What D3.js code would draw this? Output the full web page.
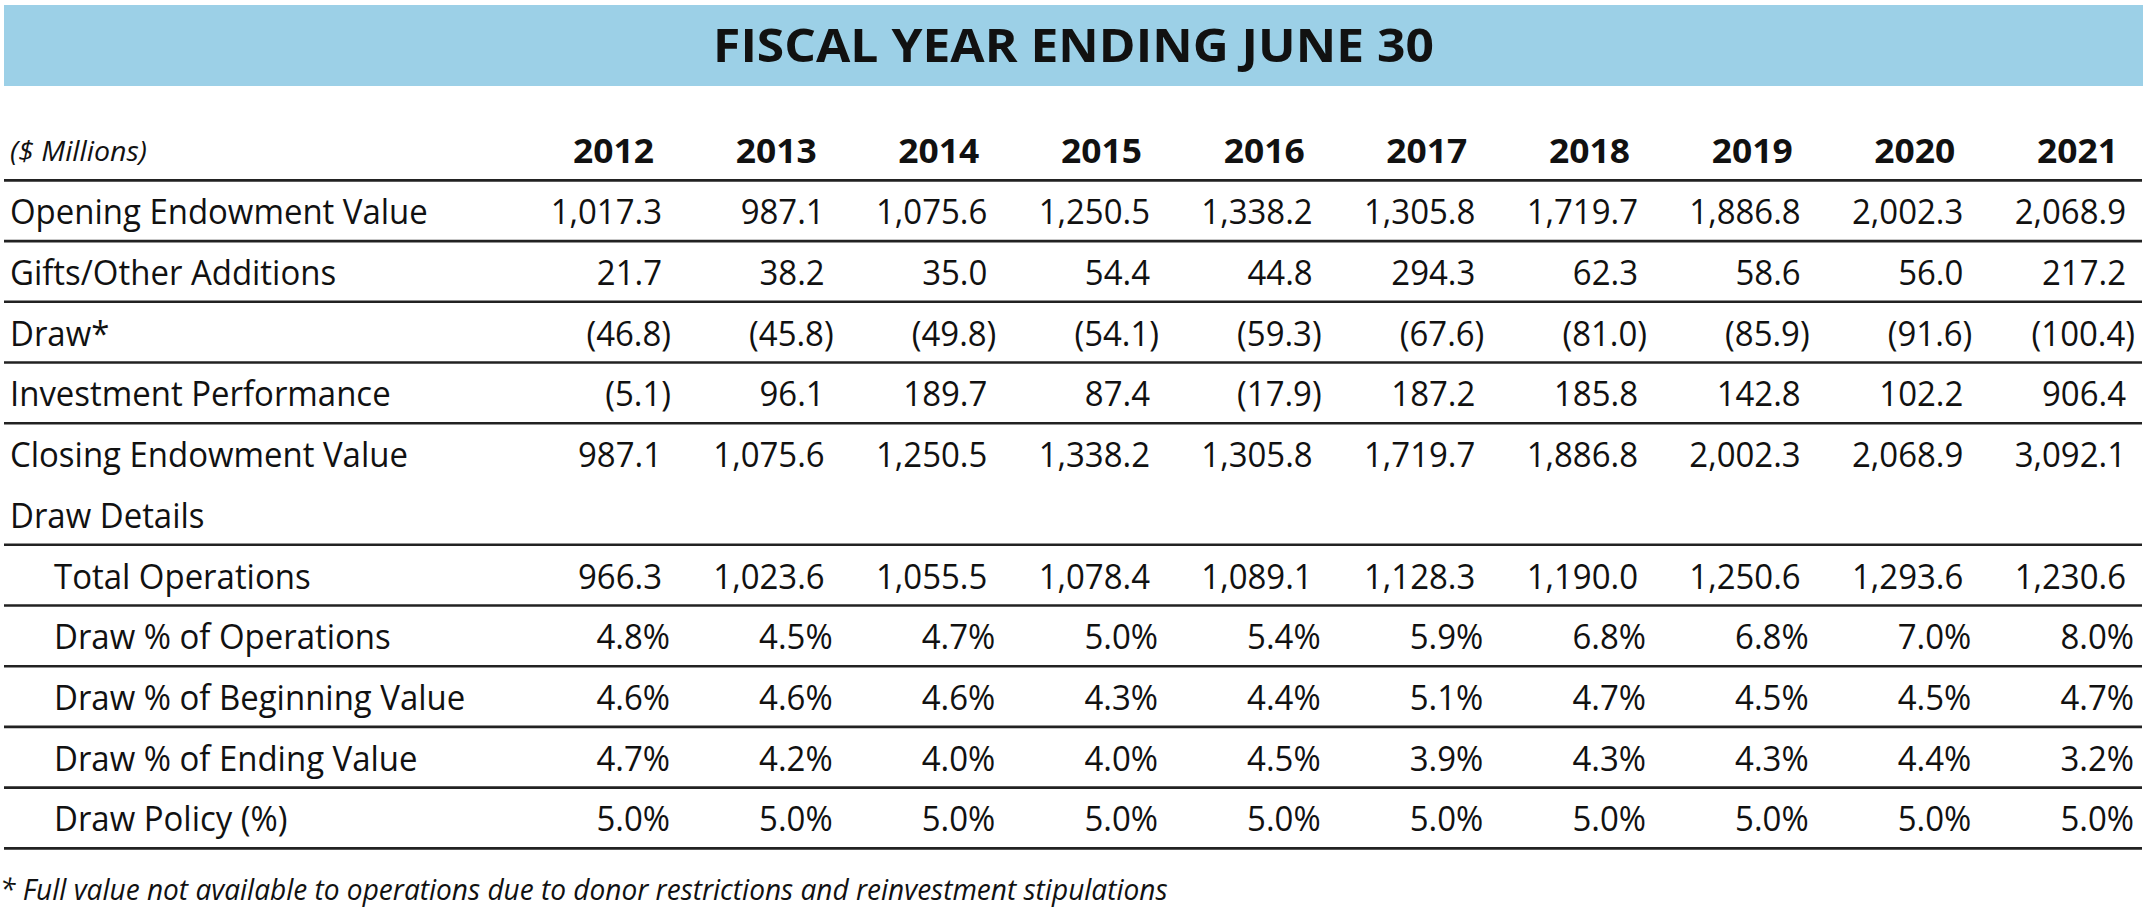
<!DOCTYPE html>
<html>
<head>
<meta charset="utf-8">
<script src="https://cdn.jsdelivr.net/npm/d3@7"></script>
<style>
  html, body { margin: 0; padding: 0; background: #ffffff; }
  svg { display: block; }
  text { font-family: "Open Sans", "Noto Sans", sans-serif; fill: #111111; }
</style>
</head>
<body>
<svg id="chart" width="2147" height="909"></svg>
<script>
// ---------------- DATA ----------------
const title = "FISCAL YEAR ENDING JUNE 30";
const unitLabel = "($ Millions)";
const years = ["2012", "2013", "2014", "2015", "2016", "2017", "2018", "2019", "2020", "2021"];

const openingValue   = [1017.3, 987.1, 1075.6, 1250.5, 1338.2, 1305.8, 1719.7, 1886.8, 2002.3, 2068.9];
const giftsAdditions = [21.7, 38.2, 35.0, 54.4, 44.8, 294.3, 62.3, 58.6, 56.0, 217.2];
const drawValues     = [-46.8, -45.8, -49.8, -54.1, -59.3, -67.6, -81.0, -85.9, -91.6, -100.4];
const investmentPerf = [-5.1, 96.1, 189.7, 87.4, -17.9, 187.2, 185.8, 142.8, 102.2, 906.4];
const closingValue   = [987.1, 1075.6, 1250.5, 1338.2, 1305.8, 1719.7, 1886.8, 2002.3, 2068.9, 3092.1];
const totalOperations = [966.3, 1023.6, 1055.5, 1078.4, 1089.1, 1128.3, 1190.0, 1250.6, 1293.6, 1230.6];
const drawPctOperations = [4.8, 4.5, 4.7, 5.0, 5.4, 5.9, 6.8, 6.8, 7.0, 8.0];
const drawPctBeginning  = [4.6, 4.6, 4.6, 4.3, 4.4, 5.1, 4.7, 4.5, 4.5, 4.7];
const drawPctEnding     = [4.7, 4.2, 4.0, 4.0, 4.5, 3.9, 4.3, 4.3, 4.4, 3.2];
const drawPolicy        = [5.0, 5.0, 5.0, 5.0, 5.0, 5.0, 5.0, 5.0, 5.0, 5.0];

const rowLabels = ["Opening Endowment Value", "Gifts/Other Additions", "Draw*", "Investment Performance",
  "Closing Endowment Value", "Draw Details", "Total Operations", "Draw % of Operations",
  "Draw % of Beginning Value", "Draw % of Ending Value", "Draw Policy (%)"];
const footnote = "* Full value not available to operations due to donor restrictions and reinvestment stipulations";

// rows table built from arrays
const rows = [
  { label: rowLabels[0], values: openingValue, kind: "num", indent: false, rule: true },
  { label: rowLabels[1], values: giftsAdditions, kind: "num", indent: false, rule: true },
  { label: rowLabels[2], values: drawValues, kind: "num", indent: false, rule: true },
  { label: rowLabels[3], values: investmentPerf, kind: "num", indent: false, rule: true },
  { label: rowLabels[4], values: closingValue, kind: "num", indent: false, rule: false },
  { label: rowLabels[5], values: null, kind: "none", indent: false, rule: true },
  { label: rowLabels[6], values: totalOperations, kind: "num", indent: true, rule: true },
  { label: rowLabels[7], values: drawPctOperations, kind: "pct", indent: true, rule: true },
  { label: rowLabels[8], values: drawPctBeginning, kind: "pct", indent: true, rule: true },
  { label: rowLabels[9], values: drawPctEnding, kind: "pct", indent: true, rule: true },
  { label: rowLabels[10], values: drawPolicy, kind: "pct", indent: true, rule: true }
];

// ---------------- LAYOUT ----------------
const W = 2147, H = 909;
const svg = d3.select("#chart");

const x = d3.scalePoint().domain(years).range([662, 2126]);
const rowKeys = ["header"].concat(rows.map((r, i) => "r" + i));
const y = d3.scalePoint().domain(rowKeys).range([151, 819]);
const step = y.step();

const fmtNum = d3.format(",.1f");
const fmtPct = d3.format(".1f");

// measurement helper for condensed look
function measure(str, size, weight, style) {
  const t = svg.append("text").attr("font-size", size).attr("font-weight", weight)
    .attr("font-style", style).text(str);
  const w = t.node().getComputedTextLength();
  t.remove();
  return w;
}
const bodySize = 34.5;
const yearSize = 33.5;
const sxBody = 418 / measure("Opening Endowment Value", bodySize, 400, "normal");
const sxYear = 81 / measure("2012", yearSize, 700, "normal");
const sxTitle = 721 / measure(title, 47, 700, "normal");
const sxItal = 137 / measure(unitLabel, 28, 400, "italic");
const sxFoot = 1168 / measure(footnote, 30, 400, "italic");

function putText(g, str, tx, ty, opts) {
  return g.append("text")
    .attr("transform", `translate(${tx},${ty}) scale(${opts.sx},1)`)
    .attr("text-anchor", opts.anchor || "start")
    .attr("dy", "0.36em")
    .attr("font-size", opts.size)
    .attr("font-weight", opts.weight || 400)
    .attr("font-style", opts.style || "normal")
    .text(str);
}

// header bar
svg.append("rect").attr("x", 4).attr("y", 5).attr("width", 2139).attr("height", 81)
  .attr("fill", "#9cd0e7");
putText(svg, title, W / 2, 45, { sx: sxTitle, size: 47, weight: 700, anchor: "middle" });

// column header
putText(svg, unitLabel, 10, y("header"), { sx: sxItal, size: 28, style: "italic" });
svg.append("g").selectAll("g").data(years).join("g").each(function (d) {
  putText(d3.select(this), d, x(d) - 8, y("header"), { sx: sxYear, size: yearSize, weight: 700, anchor: "end" });
});

// rules
const ruleKeys = ["header"].concat(rows.map((r, i) => r.rule ? "r" + i : null).filter(k => k));
svg.append("g").selectAll("line").data(ruleKeys).join("line")
  .attr("x1", 4).attr("x2", 2142)
  .attr("y1", k => y(k) + step / 2 - 1).attr("y2", k => y(k) + step / 2 - 1)
  .attr("stroke", "#222222").attr("stroke-width", 2.6);

// rows
const rowG = svg.append("g").selectAll("g").data(rows).join("g");
rowG.each(function (r, i) {
  const g = d3.select(this);
  const yy = y("r" + i);
  putText(g, r.label, r.indent ? 54 : 10, yy, { sx: sxBody, size: bodySize });
  if (!r.values) return;
  r.values.forEach((v, j) => {
    let s, off = 0;
    if (r.kind === "pct") { s = fmtPct(v) + "%"; off = 8; }
    else if (v < 0) { s = "(" + fmtNum(-v) + ")"; off = 9; }
    else { s = fmtNum(v); }
    putText(g, s, x(years[j]) + off, yy, { sx: sxBody, size: bodySize, anchor: "end" });
  });
});

// footnote
putText(svg, footnote, 0, 889, { sx: sxFoot, size: 30, style: "italic" });
</script>
</body>
</html>
